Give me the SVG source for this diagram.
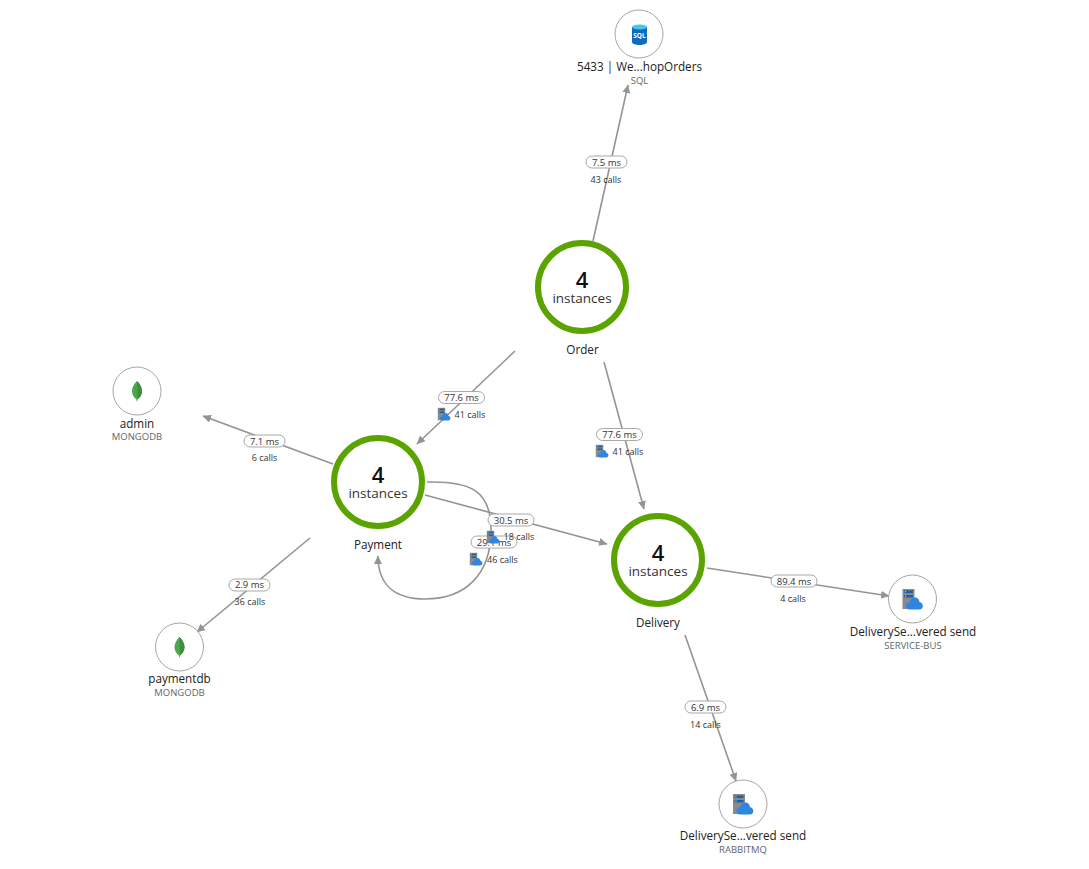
<svg xmlns="http://www.w3.org/2000/svg" width="1089" height="869" viewBox="0 0 1089 869">
<style>
text{font-family:"Open Sans","Noto Sans","Liberation Sans",sans-serif;text-anchor:middle;fill:#222}
.conn{fill:none;stroke:#949494;stroke-width:1.6}
.ring{fill:#fff;stroke:#5ba300;stroke-width:6}
.num{font-size:22px;font-weight:600;fill:#111}
.inst{font-size:13.5px;fill:#333}
.name{font-size:11.7px;fill:#222}
.small{fill:#fff;stroke:#a6a6a6;stroke-width:1}
.type{font-size:9.5px;fill:#666}
.pill{fill:#fff;stroke:#a8a8a8;stroke-width:1}
.ms{font-size:9.5px;fill:#333}
.calls{font-size:9px;fill:#333}
</style>
<defs>
<marker id="arrow" markerUnits="userSpaceOnUse" markerWidth="10" markerHeight="10" refX="8" refY="4" orient="auto"><path d="M0 0L8.500 4L0 8Z" fill="#949494"/></marker>
<g id="mongo"><path d="M0 -10C3.500 -6.500 5 -3 5 0C5 4 2.500 7 0.500 8.500L0.300 10.500L-0.300 10.500L-0.500 8.500C-2.500 7 -5 4 -5 0C-5 -3 -3.500 -6.500 0 -10Z" fill="#4ca64c"/><path d="M0 -10C3.500 -6.500 5 -3 5 0C5 4 2.500 7 0.500 8.500Z" fill="#3d8f3d"/></g>
<g id="bus"><rect x="-10" y="-10" width="12" height="20" fill="#8a8a8a"/><rect x="-8.500" y="-8.500" width="9" height="2.500" fill="#1b5fa8"/><rect x="-8.500" y="-4" width="9" height="2.500" fill="#1b5fa8"/><circle cx="-7" cy="-7.200" r="0.700" fill="#9fd4ff"/><circle cx="-7" cy="-2.800" r="0.700" fill="#9fd4ff"/><path d="M-3 10.500C-5.500 10.500 -6.500 8.500 -6.500 7C-6.500 5 -5 3.500 -3 3.500C-2.500 0.500 0 -1.500 2.500 -1.500C5 -1.500 6.800 0.500 7 3C9 3.500 10.300 5 10.300 7C10.300 9 9 10.500 7 10.500Z" fill="#2f86e0"/></g>
</defs>

<g id="connectors">
<path class="conn" marker-end="url(#arrow)" d="M593 241L628 85"/>
<path class="conn" marker-end="url(#arrow)" d="M515 351L417 444"/>
<path class="conn" marker-end="url(#arrow)" d="M604 362L644 509"/>
<path class="conn" marker-end="url(#arrow)" d="M333 464L203 416"/>
<path class="conn" marker-end="url(#arrow)" d="M310 538L197 632"/>
<path class="conn" marker-end="url(#arrow)" d="M425 495L607 544"/>
<path class="conn" marker-end="url(#arrow)" d="M427 482C470 481 491 490 491 530C491 575 465 599 425 599C395 599 378 585 378 556"/>
<path class="conn" marker-end="url(#arrow)" d="M707 568L889 596"/>
<path class="conn" marker-end="url(#arrow)" d="M685 635L736 781"/>
</g>

<g id="node-order"><circle class="ring" cx="582" cy="287" r="44"/><text class="num" x="582" y="288">4</text><text class="inst" x="582" y="303">instances</text><text class="name" x="582.500" y="354">Order</text></g>
<g id="node-payment"><circle class="ring" cx="378" cy="482" r="44"/><text class="num" x="378" y="483">4</text><text class="inst" x="378" y="498">instances</text><text class="name" x="378" y="549">Payment</text></g>
<g id="node-delivery"><circle class="ring" cx="658" cy="560" r="44"/><text class="num" x="658" y="561">4</text><text class="inst" x="658" y="576">instances</text><text class="name" x="658" y="627">Delivery</text></g>

<g id="node-sql"><circle class="small" cx="639" cy="34" r="24"/>
<path d="M632 27V42C632 44 636 45 639.500 45C643 45 647 44 647 42V27Z" fill="#0f6cbd"/><ellipse cx="639.500" cy="27" rx="7.500" ry="2.500" fill="#49c5ec"/><text x="639.500" y="38" style="font-size:6.500px;font-weight:700;fill:#fff">SQL</text>
<text class="name" x="639.500" y="71">5433 | We...hopOrders</text><text class="type" x="639.500" y="84">SQL</text></g>
<g id="node-admin"><circle class="small" cx="137" cy="391" r="24"/><use href="#mongo" x="137" y="391"/><text class="name" x="137" y="428">admin</text><text class="type" x="137" y="440">MONGODB</text></g>
<g id="node-paymentdb"><circle class="small" cx="179.500" cy="647" r="24"/><use href="#mongo" x="179.500" y="647"/><text class="name" x="179.500" y="683">paymentdb</text><text class="type" x="179.500" y="696">MONGODB</text></g>
<g id="node-servicebus"><circle class="small" cx="912.500" cy="599" r="24"/><use href="#bus" x="912.500" y="599"/><text class="name" x="913" y="636">DeliverySe...vered send</text><text class="type" x="913" y="649">SERVICE-BUS</text></g>
<g id="node-rabbitmq"><circle class="small" cx="743" cy="804" r="24"/><use href="#bus" x="743" y="804"/><text class="name" x="743" y="840">DeliverySe...vered send</text><text class="type" x="743" y="853">RABBITMQ</text></g>

<g id="labels">
<rect class="pill" x="586" y="156" width="41" height="12" rx="6"/><text class="ms" x="606.500" y="165.500">7.5 ms</text><text class="calls" x="606" y="183">43 calls</text>
<rect class="pill" x="438.500" y="391.500" width="46" height="12" rx="6"/><text class="ms" x="461.500" y="401">77.6 ms</text><use href="#bus" transform="translate(444 414) scale(0.62)"/><text class="calls" x="470" y="418">41 calls</text>
<rect class="pill" x="596.500" y="428.500" width="46" height="12" rx="6"/><text class="ms" x="619.500" y="438">77.6 ms</text><use href="#bus" transform="translate(602 451) scale(0.62)"/><text class="calls" x="628" y="455">41 calls</text>
<rect class="pill" x="244" y="435" width="41" height="12" rx="6"/><text class="ms" x="264.500" y="444.500">7.1 ms</text><text class="calls" x="264.500" y="461">6 calls</text>
<rect class="pill" x="229" y="579" width="41" height="12" rx="6"/><text class="ms" x="249.500" y="588">2.9 ms</text><text class="calls" x="250" y="605">36 calls</text>
<rect class="pill" x="471" y="536" width="46" height="12" rx="6"/><text class="ms" x="494" y="545.500">29.1 ms</text><use href="#bus" transform="translate(476 559) scale(0.62)"/><text class="calls" x="502.500" y="562.500">46 calls</text>
<rect class="pill" x="488" y="514" width="46" height="12" rx="6"/><text class="ms" x="511" y="523.500">30.5 ms</text><use href="#bus" transform="translate(493 537) scale(0.62)"/><text class="calls" x="519" y="540">18 calls</text>
<rect class="pill" x="771" y="575" width="46" height="12" rx="6"/><text class="ms" x="794" y="584.500">89.4 ms</text><text class="calls" x="793" y="602">4 calls</text>
<rect class="pill" x="685" y="701" width="41" height="12" rx="6"/><text class="ms" x="705.500" y="710.500">6.9 ms</text><text class="calls" x="705.500" y="728">14 calls</text>
</g>
</svg>
